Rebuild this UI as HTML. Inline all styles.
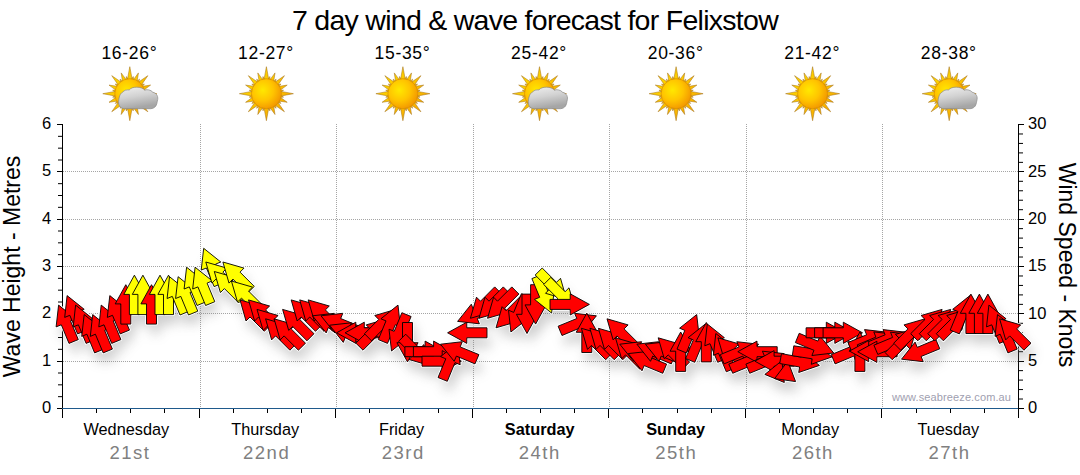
<!DOCTYPE html><html><head><meta charset="utf-8"><style>html,body{margin:0;padding:0;background:#fff;width:1080px;height:475px;overflow:hidden}svg{display:block;font-family:"Liberation Sans",sans-serif}</style></head><body>
<svg width="1080" height="475" viewBox="0 0 1080 475">
<defs>
<radialGradient id="sunc" cx="38%" cy="38%" r="65%"><stop offset="0" stop-color="#FFE800"/><stop offset="0.55" stop-color="#FFC400"/><stop offset="1" stop-color="#F39800"/></radialGradient>
<linearGradient id="ray" x1="0" y1="0" x2="1" y2="1"><stop offset="0" stop-color="#FFE200"/><stop offset="1" stop-color="#F5A000"/></linearGradient>
<linearGradient id="cld" x1="0" y1="0" x2="0.3" y2="1"><stop offset="0" stop-color="#F0F0F0"/><stop offset="0.5" stop-color="#D2D2D2"/><stop offset="1" stop-color="#A6A6A6"/></linearGradient>
<filter id="shd" x="-50%" y="-50%" width="200%" height="200%"><feGaussianBlur stdDeviation="6"/></filter>
<g id="sun">
<path d="M2.50 -13.50L0.00 -27.00L-2.50 -13.50ZM7.20 -11.63L8.61 -20.79L3.13 -13.31ZM11.10 -7.99L18.03 -18.03L7.99 -11.10ZM13.31 -3.13L20.79 -8.61L11.63 -7.20ZM13.50 2.50L27.00 -0.00L13.50 -2.50ZM11.63 7.20L20.79 8.61L13.31 3.13ZM7.99 11.10L18.03 18.03L11.10 7.99ZM3.13 13.31L8.61 20.79L7.20 11.63ZM-2.50 13.50L0.00 27.00L2.50 13.50ZM-7.20 11.63L-8.61 20.79L-3.13 13.31ZM-11.10 7.99L-18.03 18.03L-7.99 11.10ZM-13.31 3.13L-20.79 8.61L-11.63 7.20ZM-13.50 -2.50L-27.00 0.00L-13.50 2.50ZM-11.63 -7.20L-20.79 -8.61L-13.31 -3.13ZM-7.99 -11.10L-18.03 -18.03L-11.10 -7.99ZM-3.13 -13.31L-8.61 -20.79L-7.20 -11.63ZM3.91 -12.99L3.41 -17.16L1.36 -13.49ZM8.58 -10.50L9.72 -14.55L6.42 -11.95ZM11.95 -6.42L14.55 -9.72L10.50 -8.58ZM13.49 -1.36L17.16 -3.41L12.99 -3.91ZM12.99 3.91L17.16 3.41L13.49 1.36ZM10.50 8.58L14.55 9.72L11.95 6.42ZM6.42 11.95L9.72 14.55L8.58 10.50ZM1.36 13.49L3.41 17.16L3.91 12.99ZM-3.91 12.99L-3.41 17.16L-1.36 13.49ZM-8.58 10.50L-9.72 14.55L-6.42 11.95ZM-11.95 6.42L-14.55 9.72L-10.50 8.58ZM-13.49 1.36L-17.16 3.41L-12.99 3.91ZM-12.99 -3.91L-17.16 -3.41L-13.49 -1.36ZM-10.50 -8.58L-14.55 -9.72L-11.95 -6.42ZM-6.42 -11.95L-9.72 -14.55L-8.58 -10.50ZM-1.36 -13.49L-3.41 -17.16L-3.91 -12.99Z" fill="url(#ray)" stroke="#A8741C" stroke-width="0.65" stroke-opacity="0.85" stroke-linejoin="round"/>
<circle r="15" fill="url(#sunc)" stroke="#D98C00" stroke-width="0.7"/>
</g>
<path id="cloud" d="M-5 15C-10 15-12 11-11 6C-10.5 2-9-1-7-1.5C-6-3.5-3-4-0.5-3.8C2-7.5 12-7.5 15-3.5C17-4.5 21-4 23-1.5C27-0.5 29 3 27.5 7.5C27 11 26 14.5 21 15Z" fill="url(#cld)" stroke="#8A8A8A" stroke-width="0.7"/>
</defs>
<text x="535" y="30" font-size="28.5" text-anchor="middle" letter-spacing="-0.72" fill="#000">7 day wind &amp; wave forecast for Felixstow</text>
<text x="129.4" y="59" font-size="17.5" letter-spacing="0.7" text-anchor="middle" fill="#000">16-26°</text>
<use href="#sun" x="129.8" y="93.7"/>
<use href="#cloud" x="129.8" y="93.7"/>
<text x="266.0" y="59" font-size="17.5" letter-spacing="0.7" text-anchor="middle" fill="#000">12-27°</text>
<use href="#sun" x="266.4" y="93.7"/>
<text x="402.5" y="59" font-size="17.5" letter-spacing="0.7" text-anchor="middle" fill="#000">15-35°</text>
<use href="#sun" x="402.9" y="93.7"/>
<text x="539.1" y="59" font-size="17.5" letter-spacing="0.7" text-anchor="middle" fill="#000">25-42°</text>
<use href="#sun" x="539.5" y="93.7"/>
<use href="#cloud" x="539.5" y="93.7"/>
<text x="675.7" y="59" font-size="17.5" letter-spacing="0.7" text-anchor="middle" fill="#000">20-36°</text>
<use href="#sun" x="676.1" y="93.7"/>
<text x="812.2" y="59" font-size="17.5" letter-spacing="0.7" text-anchor="middle" fill="#000">21-42°</text>
<use href="#sun" x="812.6" y="93.7"/>
<text x="948.8" y="59" font-size="17.5" letter-spacing="0.7" text-anchor="middle" fill="#000">28-38°</text>
<use href="#sun" x="949.2" y="93.7"/>
<use href="#cloud" x="949.2" y="93.7"/>
<path d="M63 361.5H1018 M63 313.5H1018 M63 266.5H1018 M63 219.5H1018 M63 171.5H1018 M200.5 124V408 M336.5 124V408 M473.5 124V408 M609.5 124V408 M746.5 124V408 M882.5 124V408" stroke="#a5a5a5" stroke-width="1" stroke-dasharray="1 1" fill="none"/>
<text x="1011.1" y="401.3" font-size="11" text-anchor="end" fill="#A0A0B0" letter-spacing="0.12">www.seabreeze.com.au</text>
<path d="M62.5 124V418 M1018.5 124V408.5 M57 408.5H62.5 M58 396.67H62.5 M58 384.83H62.5 M58 373.00H62.5 M57 361.5H62.5 M58 349.33H62.5 M58 337.50H62.5 M58 325.67H62.5 M57 313.5H62.5 M58 302.00H62.5 M58 290.17H62.5 M58 278.33H62.5 M57 266.5H62.5 M58 254.67H62.5 M58 242.83H62.5 M58 231.00H62.5 M57 219.5H62.5 M58 207.33H62.5 M58 195.50H62.5 M58 183.67H62.5 M57 171.5H62.5 M58 160.00H62.5 M58 148.17H62.5 M58 136.33H62.5 M57 124.5H62.5 M1018.5 408.5H1024 M1018.5 399.03H1023 M1018.5 389.57H1023 M1018.5 380.10H1023 M1018.5 370.63H1023 M1018.5 361.5H1024 M1018.5 351.70H1023 M1018.5 342.23H1023 M1018.5 332.77H1023 M1018.5 323.30H1023 M1018.5 313.5H1024 M1018.5 304.37H1023 M1018.5 294.90H1023 M1018.5 285.43H1023 M1018.5 275.97H1023 M1018.5 266.5H1024 M1018.5 257.03H1023 M1018.5 247.57H1023 M1018.5 238.10H1023 M1018.5 228.63H1023 M1018.5 219.5H1024 M1018.5 209.70H1023 M1018.5 200.23H1023 M1018.5 190.77H1023 M1018.5 181.30H1023 M1018.5 171.5H1024 M1018.5 162.37H1023 M1018.5 152.90H1023 M1018.5 143.43H1023 M1018.5 133.97H1023 M1018.5 124.5H1024 M62.5 408V418 M96.5 408V413 M130.5 408V413 M164.5 408V413 M199.5 408V418 M233.5 408V413 M267.5 408V413 M301.5 408V413 M335.5 408V418 M369.5 408V413 M403.5 408V413 M438.5 408V413 M472.5 408V418 M506.5 408V413 M540.5 408V413 M574.5 408V413 M608.5 408V418 M642.5 408V413 M677.5 408V413 M711.5 408V413 M745.5 408V418 M779.5 408V413 M813.5 408V413 M847.5 408V413 M881.5 408V418 M916.5 408V413 M950.5 408V413 M984.5 408V413 M1018.5 408V418" stroke="#000" stroke-width="1" fill="none"/>
<path d="M62 408.5H1018" stroke="#1F5A8C" stroke-width="1" fill="none"/>
<g filter="url(#shd)" opacity="0.35" transform="translate(4,10)"><path d="M58.6 305.1L75.7 318.8L70.5 320.9L78.3 339.6L69.0 343.4L61.3 324.8L56.1 326.9ZM67.1 295.6L84.2 309.3L79.1 311.5L86.8 330.1L77.6 333.9L69.8 315.3L64.7 317.4ZM75.6 305.1L92.8 318.8L87.6 320.9L95.3 339.6L86.1 343.4L78.4 324.8L73.2 326.9ZM84.2 314.6L101.3 328.2L96.1 330.4L103.9 349.1L94.6 352.9L86.9 334.2L81.7 336.4ZM92.7 314.6L109.8 328.2L104.7 330.4L112.4 349.1L103.2 352.9L95.4 334.2L90.3 336.4ZM101.2 305.1L118.4 318.8L113.2 320.9L120.9 339.6L111.7 343.4L104.0 324.8L98.8 326.9ZM109.8 295.6L126.9 309.3L121.7 311.5L129.5 330.1L120.2 333.9L112.5 315.3L107.3 317.4ZM125.8 284.7L136.4 303.9L130.8 303.9L130.8 324.1L120.8 324.1L120.8 303.9L115.2 303.9ZM134.4 275.2L145.0 294.4L139.4 294.4L139.4 314.6L129.4 314.6L129.4 294.4L123.8 294.4ZM142.9 275.2L153.5 294.4L147.9 294.4L147.9 314.6L137.9 314.6L137.9 294.4L132.3 294.4ZM151.5 284.7L162.1 303.9L156.5 303.9L156.5 324.1L146.5 324.1L146.5 303.9L140.9 303.9ZM160.0 275.2L170.6 294.4L165.0 294.4L165.0 314.6L155.0 314.6L155.0 294.4L149.4 294.4ZM168.5 275.2L179.1 294.4L173.5 294.4L173.5 314.6L163.5 314.6L163.5 294.4L157.9 294.4ZM169.5 276.7L186.7 290.4L181.5 292.5L189.2 311.2L180.0 315.0L172.3 296.4L167.1 298.5ZM178.1 276.7L195.2 290.4L190.0 292.5L197.8 311.2L188.5 315.0L180.8 296.4L175.6 298.5ZM186.6 267.2L203.7 280.9L198.6 283.1L206.3 301.7L197.1 305.5L189.3 286.9L184.1 289.0ZM195.1 267.2L212.3 280.9L207.1 283.1L214.8 301.7L205.6 305.5L197.9 286.9L192.7 289.0ZM203.7 248.3L220.8 262.0L215.6 264.1L223.4 282.8L214.1 286.6L206.4 268.0L201.2 270.1ZM205.8 262.0L226.9 268.1L222.9 272.1L237.2 286.4L230.1 293.4L215.9 279.1L211.9 283.1ZM214.3 271.5L235.4 277.6L231.5 281.5L245.7 295.8L238.7 302.9L224.4 288.6L220.4 292.6ZM222.9 262.0L244.0 268.1L240.0 272.1L254.3 286.4L247.2 293.4L232.9 279.1L229.0 283.1ZM231.4 281.0L252.5 287.1L248.5 291.0L262.8 305.3L255.7 312.4L241.5 298.1L237.5 302.0ZM240.0 299.9L261.0 306.0L257.1 309.9L271.3 324.2L264.3 331.3L250.0 317.0L246.0 321.0ZM248.5 299.9L269.6 306.0L265.6 309.9L279.9 324.2L272.8 331.3L258.5 317.0L254.6 321.0ZM257.0 309.4L278.1 315.5L274.1 319.4L288.4 333.7L281.3 340.8L267.1 326.5L263.1 330.4ZM265.6 318.8L286.6 324.9L282.7 328.9L297.0 343.2L289.9 350.2L275.6 335.9L271.6 339.9ZM274.1 318.8L295.2 324.9L291.2 328.9L305.5 343.2L298.4 350.2L284.1 335.9L280.2 339.9ZM282.6 309.4L303.7 315.5L299.7 319.4L314.0 333.7L307.0 340.8L292.7 326.5L288.7 330.4ZM291.2 299.9L312.2 306.0L308.3 309.9L322.6 324.2L315.5 331.3L301.2 317.0L297.2 321.0ZM299.7 299.9L320.8 306.0L316.8 309.9L331.1 324.2L324.0 331.3L309.7 317.0L305.8 321.0ZM308.2 299.9L329.3 306.0L325.4 309.9L339.6 324.2L332.6 331.3L318.3 317.0L314.3 321.0ZM312.5 315.8L334.3 313.3L332.2 318.5L350.8 326.2L347.0 335.5L328.3 327.7L326.2 332.9ZM321.0 315.8L342.8 313.3L340.7 318.5L359.4 326.2L355.5 335.5L336.9 327.7L334.7 332.9ZM329.6 325.2L351.4 322.8L349.2 328.0L367.9 335.7L364.1 344.9L345.4 337.2L343.3 342.4ZM336.6 332.8L355.8 322.2L355.8 327.8L376.0 327.8L376.0 337.8L355.8 337.8L355.8 343.4ZM345.1 332.8L364.3 322.2L364.3 327.8L384.5 327.8L384.5 337.8L364.3 337.8L364.3 343.4ZM387.3 318.8L381.2 339.9L377.3 335.9L363.0 350.2L355.9 343.2L370.2 328.9L366.2 324.9ZM395.8 309.4L389.8 330.4L385.8 326.5L371.5 340.8L364.5 333.7L378.7 319.4L374.8 315.5ZM398.0 305.1L400.4 326.9L395.3 324.8L387.5 343.4L378.3 339.6L386.0 320.9L380.9 318.8ZM391.5 351.0L389.0 329.2L394.2 331.3L401.9 312.7L411.1 316.5L403.4 335.1L408.6 337.3ZM407.5 361.9L396.9 342.7L402.5 342.7L402.5 322.5L412.5 322.5L412.5 342.7L418.1 342.7ZM430.0 365.6L408.9 359.5L412.9 355.6L398.6 341.3L405.7 334.2L419.9 348.5L423.9 344.6ZM444.3 351.7L425.1 362.3L425.1 356.7L404.9 356.7L404.9 346.7L425.1 346.7L425.1 341.1ZM452.8 351.7L433.6 362.3L433.6 356.7L413.4 356.7L413.4 346.7L433.6 346.7L433.6 341.1ZM461.4 361.2L442.2 371.8L442.2 366.2L422.0 366.2L422.0 356.2L442.2 356.2L442.2 350.6ZM457.7 343.0L460.2 364.8L455.0 362.6L447.3 381.3L438.0 377.5L445.8 358.8L440.6 356.6ZM440.5 344.2L462.3 341.7L460.2 346.9L478.9 354.6L475.0 363.9L456.4 356.1L454.2 361.3ZM447.6 332.8L466.8 322.2L466.8 327.8L487.0 327.8L487.0 337.8L466.8 337.8L466.8 343.4ZM457.6 321.4L471.3 304.2L473.4 309.4L492.1 301.7L495.9 310.9L477.3 318.6L479.4 323.8ZM470.4 318.3L476.5 297.2L480.5 301.2L494.7 286.9L501.8 294.0L487.5 308.3L491.5 312.2ZM479.0 318.3L485.0 297.2L489.0 301.2L503.3 286.9L510.3 294.0L496.1 308.3L500.0 312.2ZM487.5 318.3L493.6 297.2L497.5 301.2L511.8 286.9L518.9 294.0L504.6 308.3L508.6 312.2ZM496.0 327.8L502.1 306.7L506.1 310.7L520.3 296.4L527.4 303.4L513.1 317.7L517.1 321.7ZM510.9 332.0L508.5 310.2L513.7 312.4L521.4 293.7L530.6 297.5L522.9 316.2L528.1 318.4ZM527.0 333.5L516.4 314.3L522.0 314.3L522.0 294.1L532.0 294.1L532.0 314.3L537.6 314.3ZM535.6 324.1L525.0 304.9L530.6 304.9L530.6 284.7L540.6 284.7L540.6 304.9L546.2 304.9ZM551.6 313.1L534.5 299.4L539.7 297.3L531.9 278.6L541.2 274.8L548.9 293.4L554.1 291.3ZM566.6 299.4L545.5 293.3L549.4 289.3L535.2 275.0L542.2 268.0L556.5 282.3L560.5 278.3ZM575.1 308.8L554.0 302.7L558.0 298.8L543.7 284.5L550.8 277.4L565.1 291.7L569.0 287.8ZM589.4 304.4L570.2 315.0L570.2 309.4L550.0 309.4L550.0 299.4L570.2 299.4L570.2 293.8ZM596.4 315.8L582.8 332.9L580.6 327.7L562.0 335.5L558.1 326.2L576.8 318.5L574.6 313.3ZM586.8 313.1L597.4 332.3L591.8 332.3L591.8 352.5L581.8 352.5L581.8 332.3L576.2 332.3ZM581.4 328.3L602.5 334.4L598.5 338.3L612.8 352.6L605.7 359.7L591.4 345.4L587.5 349.4ZM589.9 328.3L611.0 334.4L607.0 338.3L621.3 352.6L614.2 359.7L600.0 345.4L596.0 349.4ZM598.4 328.3L619.5 334.4L615.6 338.3L629.8 352.6L622.8 359.7L608.5 345.4L604.5 349.4ZM607.0 318.8L628.1 324.9L624.1 328.9L638.4 343.2L631.3 350.2L617.0 335.9L613.1 339.9ZM615.5 337.8L636.6 343.9L632.6 347.8L646.9 362.1L639.8 369.2L625.6 354.9L621.6 358.8ZM619.8 344.2L641.6 341.7L639.4 346.9L658.1 354.6L654.3 363.9L635.6 356.1L633.5 361.3ZM628.3 353.6L650.1 351.2L648.0 356.4L666.6 364.1L662.8 373.3L644.1 365.6L642.0 370.8ZM636.9 344.2L658.7 341.7L656.5 346.9L675.2 354.6L671.3 363.9L652.7 356.1L650.5 361.3ZM645.4 344.2L667.2 341.7L665.0 346.9L683.7 354.6L679.9 363.9L661.2 356.1L659.1 361.3ZM658.2 337.8L679.3 343.9L675.3 347.8L689.6 362.1L682.5 369.2L668.2 354.9L664.3 358.8ZM680.7 332.0L691.3 351.2L685.7 351.2L685.7 371.4L675.7 371.4L675.7 351.2L670.1 351.2ZM696.7 314.6L699.2 336.4L694.0 334.2L686.3 352.9L677.0 349.1L684.8 330.4L679.6 328.2ZM705.3 324.0L707.7 345.8L702.5 343.7L694.8 362.3L685.6 358.5L693.3 339.9L688.1 337.7ZM706.3 322.5L716.9 341.7L711.3 341.7L711.3 361.9L701.3 361.9L701.3 341.7L695.7 341.7ZM707.3 324.0L724.4 337.7L719.2 339.9L727.0 358.5L717.7 362.3L710.0 343.7L704.8 345.8ZM715.8 333.5L732.9 347.2L727.8 349.3L735.5 368.0L726.3 371.8L718.5 353.2L713.4 355.3ZM717.9 337.8L739.0 343.9L735.1 347.8L749.3 362.1L742.3 369.2L728.0 354.9L724.0 358.8ZM758.6 344.2L744.9 361.3L742.8 356.1L724.1 363.9L720.3 354.6L739.0 346.9L736.8 341.7ZM767.2 353.6L753.5 370.8L751.3 365.6L732.7 373.3L728.8 364.1L747.5 356.4L745.4 351.2ZM737.8 351.7L757.0 341.1L757.0 346.7L777.2 346.7L777.2 356.7L757.0 356.7L757.0 362.3ZM784.2 353.6L770.5 370.8L768.4 365.6L749.7 373.3L745.9 364.1L764.6 356.4L762.4 351.2ZM754.9 361.2L774.1 350.6L774.1 356.2L794.3 356.2L794.3 366.2L774.1 366.2L774.1 371.8ZM781.9 360.7L784.3 382.5L764.8 374.4ZM787.8 361.1L795.6 381.6L774.6 378.6ZM819.4 365.4L798.7 372.5L799.6 367.0L779.7 363.5L781.5 353.7L801.4 357.2L802.3 351.6ZM832.0 356.9L811.3 364.3L812.2 358.8L792.3 355.7L793.8 345.8L813.8 348.9L814.7 343.4ZM833.7 353.0L811.9 355.5L814.0 350.3L795.4 342.6L799.2 333.3L817.9 341.1L820.0 335.9ZM845.5 332.8L826.3 343.4L826.3 337.8L806.1 337.8L806.1 327.8L826.3 327.8L826.3 322.2ZM854.0 332.8L834.8 343.4L834.8 337.8L814.6 337.8L814.6 327.8L834.8 327.8L834.8 322.2ZM862.5 332.8L843.3 343.4L843.3 337.8L823.1 337.8L823.1 327.8L843.3 327.8L843.3 322.2ZM869.6 344.2L855.9 361.3L853.8 356.1L835.1 363.9L831.3 354.6L849.9 346.9L847.8 341.7ZM859.9 332.0L870.5 351.2L864.9 351.2L864.9 371.4L854.9 371.4L854.9 351.2L849.3 351.2ZM886.3 332.1L872.6 349.2L870.5 344.0L851.8 351.8L848.0 342.5L866.6 334.8L864.5 329.6ZM895.6 334.4L881.9 351.5L879.8 346.3L861.1 354.1L857.3 344.8L875.9 337.1L873.8 331.9ZM904.8 332.1L891.1 349.2L889.0 344.0L870.3 351.8L866.5 342.5L885.1 334.8L883.0 329.6ZM849.5 351.1L868.7 340.5L868.7 346.1L888.9 346.1L888.9 356.1L868.7 356.1L868.7 361.7ZM857.7 351.8L876.9 341.2L876.9 346.8L897.1 346.8L897.1 356.8L876.9 356.8L876.9 362.4ZM912.3 334.7L898.6 351.8L896.4 346.7L877.8 354.4L873.9 345.2L892.6 337.4L890.5 332.2ZM916.5 328.3L910.4 349.4L906.5 345.4L892.2 359.7L885.1 352.6L899.4 338.3L895.4 334.4ZM925.1 318.8L919.0 339.9L915.0 335.9L900.7 350.2L893.7 343.2L907.9 328.9L904.0 324.9ZM901.5 359.2L915.1 342.1L917.3 347.3L935.9 339.5L939.8 348.8L921.1 356.5L923.3 361.7ZM942.1 309.4L936.0 330.4L932.1 326.5L917.8 340.8L910.7 333.7L925.0 319.4L921.1 315.5ZM950.7 309.4L944.6 330.4L940.6 326.5L926.3 340.8L919.3 333.7L933.6 319.4L929.6 315.5ZM959.2 309.4L953.1 330.4L949.2 326.5L934.9 340.8L927.8 333.7L942.1 319.4L938.1 315.5ZM967.7 309.4L961.7 330.4L957.7 326.5L943.4 340.8L936.3 333.7L950.6 319.4L946.7 315.5ZM969.9 295.6L972.3 317.4L967.2 315.3L959.4 333.9L950.2 330.1L957.9 311.5L952.7 309.3ZM970.9 294.1L981.5 313.3L975.9 313.3L975.9 333.5L965.9 333.5L965.9 313.3L960.3 313.3ZM979.4 294.1L990.0 313.3L984.4 313.3L984.4 333.5L974.4 333.5L974.4 313.3L968.8 313.3ZM987.9 294.1L998.5 313.3L992.9 313.3L992.9 333.5L982.9 333.5L982.9 313.3L977.3 313.3ZM988.9 305.1L1006.1 318.8L1000.9 320.9L1008.6 339.6L999.4 343.4L991.7 324.8L986.5 326.9ZM997.5 314.6L1014.6 328.2L1009.4 330.4L1017.2 349.1L1007.9 352.9L1000.2 334.2L995.0 336.4ZM999.6 318.8L1020.7 324.9L1016.7 328.9L1031.0 343.2L1023.9 350.2L1009.7 335.9L1005.7 339.9Z" fill="#777"/></g><path d="M58.6 305.1L75.7 318.8L70.5 320.9L78.3 339.6L69.0 343.4L61.3 324.8L56.1 326.9ZM67.1 295.6L84.2 309.3L79.1 311.5L86.8 330.1L77.6 333.9L69.8 315.3L64.7 317.4ZM75.6 305.1L92.8 318.8L87.6 320.9L95.3 339.6L86.1 343.4L78.4 324.8L73.2 326.9ZM84.2 314.6L101.3 328.2L96.1 330.4L103.9 349.1L94.6 352.9L86.9 334.2L81.7 336.4ZM92.7 314.6L109.8 328.2L104.7 330.4L112.4 349.1L103.2 352.9L95.4 334.2L90.3 336.4ZM101.2 305.1L118.4 318.8L113.2 320.9L120.9 339.6L111.7 343.4L104.0 324.8L98.8 326.9ZM109.8 295.6L126.9 309.3L121.7 311.5L129.5 330.1L120.2 333.9L112.5 315.3L107.3 317.4ZM125.8 284.7L136.4 303.9L130.8 303.9L130.8 324.1L120.8 324.1L120.8 303.9L115.2 303.9ZM134.4 275.2L145.0 294.4L139.4 294.4L139.4 314.6L129.4 314.6L129.4 294.4L123.8 294.4ZM142.9 275.2L153.5 294.4L147.9 294.4L147.9 314.6L137.9 314.6L137.9 294.4L132.3 294.4ZM151.5 284.7L162.1 303.9L156.5 303.9L156.5 324.1L146.5 324.1L146.5 303.9L140.9 303.9ZM160.0 275.2L170.6 294.4L165.0 294.4L165.0 314.6L155.0 314.6L155.0 294.4L149.4 294.4ZM168.5 275.2L179.1 294.4L173.5 294.4L173.5 314.6L163.5 314.6L163.5 294.4L157.9 294.4ZM169.5 276.7L186.7 290.4L181.5 292.5L189.2 311.2L180.0 315.0L172.3 296.4L167.1 298.5ZM178.1 276.7L195.2 290.4L190.0 292.5L197.8 311.2L188.5 315.0L180.8 296.4L175.6 298.5ZM186.6 267.2L203.7 280.9L198.6 283.1L206.3 301.7L197.1 305.5L189.3 286.9L184.1 289.0ZM195.1 267.2L212.3 280.9L207.1 283.1L214.8 301.7L205.6 305.5L197.9 286.9L192.7 289.0ZM203.7 248.3L220.8 262.0L215.6 264.1L223.4 282.8L214.1 286.6L206.4 268.0L201.2 270.1ZM205.8 262.0L226.9 268.1L222.9 272.1L237.2 286.4L230.1 293.4L215.9 279.1L211.9 283.1ZM214.3 271.5L235.4 277.6L231.5 281.5L245.7 295.8L238.7 302.9L224.4 288.6L220.4 292.6ZM222.9 262.0L244.0 268.1L240.0 272.1L254.3 286.4L247.2 293.4L232.9 279.1L229.0 283.1ZM231.4 281.0L252.5 287.1L248.5 291.0L262.8 305.3L255.7 312.4L241.5 298.1L237.5 302.0ZM240.0 299.9L261.0 306.0L257.1 309.9L271.3 324.2L264.3 331.3L250.0 317.0L246.0 321.0ZM248.5 299.9L269.6 306.0L265.6 309.9L279.9 324.2L272.8 331.3L258.5 317.0L254.6 321.0ZM257.0 309.4L278.1 315.5L274.1 319.4L288.4 333.7L281.3 340.8L267.1 326.5L263.1 330.4ZM265.6 318.8L286.6 324.9L282.7 328.9L297.0 343.2L289.9 350.2L275.6 335.9L271.6 339.9ZM274.1 318.8L295.2 324.9L291.2 328.9L305.5 343.2L298.4 350.2L284.1 335.9L280.2 339.9ZM282.6 309.4L303.7 315.5L299.7 319.4L314.0 333.7L307.0 340.8L292.7 326.5L288.7 330.4ZM291.2 299.9L312.2 306.0L308.3 309.9L322.6 324.2L315.5 331.3L301.2 317.0L297.2 321.0ZM299.7 299.9L320.8 306.0L316.8 309.9L331.1 324.2L324.0 331.3L309.7 317.0L305.8 321.0ZM308.2 299.9L329.3 306.0L325.4 309.9L339.6 324.2L332.6 331.3L318.3 317.0L314.3 321.0ZM312.5 315.8L334.3 313.3L332.2 318.5L350.8 326.2L347.0 335.5L328.3 327.7L326.2 332.9ZM321.0 315.8L342.8 313.3L340.7 318.5L359.4 326.2L355.5 335.5L336.9 327.7L334.7 332.9ZM329.6 325.2L351.4 322.8L349.2 328.0L367.9 335.7L364.1 344.9L345.4 337.2L343.3 342.4ZM336.6 332.8L355.8 322.2L355.8 327.8L376.0 327.8L376.0 337.8L355.8 337.8L355.8 343.4ZM345.1 332.8L364.3 322.2L364.3 327.8L384.5 327.8L384.5 337.8L364.3 337.8L364.3 343.4ZM387.3 318.8L381.2 339.9L377.3 335.9L363.0 350.2L355.9 343.2L370.2 328.9L366.2 324.9ZM395.8 309.4L389.8 330.4L385.8 326.5L371.5 340.8L364.5 333.7L378.7 319.4L374.8 315.5ZM398.0 305.1L400.4 326.9L395.3 324.8L387.5 343.4L378.3 339.6L386.0 320.9L380.9 318.8ZM391.5 351.0L389.0 329.2L394.2 331.3L401.9 312.7L411.1 316.5L403.4 335.1L408.6 337.3ZM407.5 361.9L396.9 342.7L402.5 342.7L402.5 322.5L412.5 322.5L412.5 342.7L418.1 342.7ZM430.0 365.6L408.9 359.5L412.9 355.6L398.6 341.3L405.7 334.2L419.9 348.5L423.9 344.6ZM444.3 351.7L425.1 362.3L425.1 356.7L404.9 356.7L404.9 346.7L425.1 346.7L425.1 341.1ZM452.8 351.7L433.6 362.3L433.6 356.7L413.4 356.7L413.4 346.7L433.6 346.7L433.6 341.1ZM461.4 361.2L442.2 371.8L442.2 366.2L422.0 366.2L422.0 356.2L442.2 356.2L442.2 350.6ZM457.7 343.0L460.2 364.8L455.0 362.6L447.3 381.3L438.0 377.5L445.8 358.8L440.6 356.6ZM440.5 344.2L462.3 341.7L460.2 346.9L478.9 354.6L475.0 363.9L456.4 356.1L454.2 361.3ZM447.6 332.8L466.8 322.2L466.8 327.8L487.0 327.8L487.0 337.8L466.8 337.8L466.8 343.4ZM457.6 321.4L471.3 304.2L473.4 309.4L492.1 301.7L495.9 310.9L477.3 318.6L479.4 323.8ZM470.4 318.3L476.5 297.2L480.5 301.2L494.7 286.9L501.8 294.0L487.5 308.3L491.5 312.2ZM479.0 318.3L485.0 297.2L489.0 301.2L503.3 286.9L510.3 294.0L496.1 308.3L500.0 312.2ZM487.5 318.3L493.6 297.2L497.5 301.2L511.8 286.9L518.9 294.0L504.6 308.3L508.6 312.2ZM496.0 327.8L502.1 306.7L506.1 310.7L520.3 296.4L527.4 303.4L513.1 317.7L517.1 321.7ZM510.9 332.0L508.5 310.2L513.7 312.4L521.4 293.7L530.6 297.5L522.9 316.2L528.1 318.4ZM527.0 333.5L516.4 314.3L522.0 314.3L522.0 294.1L532.0 294.1L532.0 314.3L537.6 314.3ZM535.6 324.1L525.0 304.9L530.6 304.9L530.6 284.7L540.6 284.7L540.6 304.9L546.2 304.9ZM551.6 313.1L534.5 299.4L539.7 297.3L531.9 278.6L541.2 274.8L548.9 293.4L554.1 291.3ZM566.6 299.4L545.5 293.3L549.4 289.3L535.2 275.0L542.2 268.0L556.5 282.3L560.5 278.3ZM575.1 308.8L554.0 302.7L558.0 298.8L543.7 284.5L550.8 277.4L565.1 291.7L569.0 287.8ZM589.4 304.4L570.2 315.0L570.2 309.4L550.0 309.4L550.0 299.4L570.2 299.4L570.2 293.8ZM596.4 315.8L582.8 332.9L580.6 327.7L562.0 335.5L558.1 326.2L576.8 318.5L574.6 313.3ZM586.8 313.1L597.4 332.3L591.8 332.3L591.8 352.5L581.8 352.5L581.8 332.3L576.2 332.3ZM581.4 328.3L602.5 334.4L598.5 338.3L612.8 352.6L605.7 359.7L591.4 345.4L587.5 349.4ZM589.9 328.3L611.0 334.4L607.0 338.3L621.3 352.6L614.2 359.7L600.0 345.4L596.0 349.4ZM598.4 328.3L619.5 334.4L615.6 338.3L629.8 352.6L622.8 359.7L608.5 345.4L604.5 349.4ZM607.0 318.8L628.1 324.9L624.1 328.9L638.4 343.2L631.3 350.2L617.0 335.9L613.1 339.9ZM615.5 337.8L636.6 343.9L632.6 347.8L646.9 362.1L639.8 369.2L625.6 354.9L621.6 358.8ZM619.8 344.2L641.6 341.7L639.4 346.9L658.1 354.6L654.3 363.9L635.6 356.1L633.5 361.3ZM628.3 353.6L650.1 351.2L648.0 356.4L666.6 364.1L662.8 373.3L644.1 365.6L642.0 370.8ZM636.9 344.2L658.7 341.7L656.5 346.9L675.2 354.6L671.3 363.9L652.7 356.1L650.5 361.3ZM645.4 344.2L667.2 341.7L665.0 346.9L683.7 354.6L679.9 363.9L661.2 356.1L659.1 361.3ZM658.2 337.8L679.3 343.9L675.3 347.8L689.6 362.1L682.5 369.2L668.2 354.9L664.3 358.8ZM680.7 332.0L691.3 351.2L685.7 351.2L685.7 371.4L675.7 371.4L675.7 351.2L670.1 351.2ZM696.7 314.6L699.2 336.4L694.0 334.2L686.3 352.9L677.0 349.1L684.8 330.4L679.6 328.2ZM705.3 324.0L707.7 345.8L702.5 343.7L694.8 362.3L685.6 358.5L693.3 339.9L688.1 337.7ZM706.3 322.5L716.9 341.7L711.3 341.7L711.3 361.9L701.3 361.9L701.3 341.7L695.7 341.7ZM707.3 324.0L724.4 337.7L719.2 339.9L727.0 358.5L717.7 362.3L710.0 343.7L704.8 345.8ZM715.8 333.5L732.9 347.2L727.8 349.3L735.5 368.0L726.3 371.8L718.5 353.2L713.4 355.3ZM717.9 337.8L739.0 343.9L735.1 347.8L749.3 362.1L742.3 369.2L728.0 354.9L724.0 358.8ZM758.6 344.2L744.9 361.3L742.8 356.1L724.1 363.9L720.3 354.6L739.0 346.9L736.8 341.7ZM767.2 353.6L753.5 370.8L751.3 365.6L732.7 373.3L728.8 364.1L747.5 356.4L745.4 351.2ZM737.8 351.7L757.0 341.1L757.0 346.7L777.2 346.7L777.2 356.7L757.0 356.7L757.0 362.3ZM784.2 353.6L770.5 370.8L768.4 365.6L749.7 373.3L745.9 364.1L764.6 356.4L762.4 351.2ZM754.9 361.2L774.1 350.6L774.1 356.2L794.3 356.2L794.3 366.2L774.1 366.2L774.1 371.8ZM781.9 360.7L784.3 382.5L764.8 374.4ZM787.8 361.1L795.6 381.6L774.6 378.6ZM819.4 365.4L798.7 372.5L799.6 367.0L779.7 363.5L781.5 353.7L801.4 357.2L802.3 351.6ZM832.0 356.9L811.3 364.3L812.2 358.8L792.3 355.7L793.8 345.8L813.8 348.9L814.7 343.4ZM833.7 353.0L811.9 355.5L814.0 350.3L795.4 342.6L799.2 333.3L817.9 341.1L820.0 335.9ZM845.5 332.8L826.3 343.4L826.3 337.8L806.1 337.8L806.1 327.8L826.3 327.8L826.3 322.2ZM854.0 332.8L834.8 343.4L834.8 337.8L814.6 337.8L814.6 327.8L834.8 327.8L834.8 322.2ZM862.5 332.8L843.3 343.4L843.3 337.8L823.1 337.8L823.1 327.8L843.3 327.8L843.3 322.2ZM869.6 344.2L855.9 361.3L853.8 356.1L835.1 363.9L831.3 354.6L849.9 346.9L847.8 341.7ZM859.9 332.0L870.5 351.2L864.9 351.2L864.9 371.4L854.9 371.4L854.9 351.2L849.3 351.2ZM886.3 332.1L872.6 349.2L870.5 344.0L851.8 351.8L848.0 342.5L866.6 334.8L864.5 329.6ZM895.6 334.4L881.9 351.5L879.8 346.3L861.1 354.1L857.3 344.8L875.9 337.1L873.8 331.9ZM904.8 332.1L891.1 349.2L889.0 344.0L870.3 351.8L866.5 342.5L885.1 334.8L883.0 329.6ZM849.5 351.1L868.7 340.5L868.7 346.1L888.9 346.1L888.9 356.1L868.7 356.1L868.7 361.7ZM857.7 351.8L876.9 341.2L876.9 346.8L897.1 346.8L897.1 356.8L876.9 356.8L876.9 362.4ZM912.3 334.7L898.6 351.8L896.4 346.7L877.8 354.4L873.9 345.2L892.6 337.4L890.5 332.2ZM916.5 328.3L910.4 349.4L906.5 345.4L892.2 359.7L885.1 352.6L899.4 338.3L895.4 334.4ZM925.1 318.8L919.0 339.9L915.0 335.9L900.7 350.2L893.7 343.2L907.9 328.9L904.0 324.9ZM901.5 359.2L915.1 342.1L917.3 347.3L935.9 339.5L939.8 348.8L921.1 356.5L923.3 361.7ZM942.1 309.4L936.0 330.4L932.1 326.5L917.8 340.8L910.7 333.7L925.0 319.4L921.1 315.5ZM950.7 309.4L944.6 330.4L940.6 326.5L926.3 340.8L919.3 333.7L933.6 319.4L929.6 315.5ZM959.2 309.4L953.1 330.4L949.2 326.5L934.9 340.8L927.8 333.7L942.1 319.4L938.1 315.5ZM967.7 309.4L961.7 330.4L957.7 326.5L943.4 340.8L936.3 333.7L950.6 319.4L946.7 315.5ZM969.9 295.6L972.3 317.4L967.2 315.3L959.4 333.9L950.2 330.1L957.9 311.5L952.7 309.3ZM970.9 294.1L981.5 313.3L975.9 313.3L975.9 333.5L965.9 333.5L965.9 313.3L960.3 313.3ZM979.4 294.1L990.0 313.3L984.4 313.3L984.4 333.5L974.4 333.5L974.4 313.3L968.8 313.3ZM987.9 294.1L998.5 313.3L992.9 313.3L992.9 333.5L982.9 333.5L982.9 313.3L977.3 313.3ZM988.9 305.1L1006.1 318.8L1000.9 320.9L1008.6 339.6L999.4 343.4L991.7 324.8L986.5 326.9ZM997.5 314.6L1014.6 328.2L1009.4 330.4L1017.2 349.1L1007.9 352.9L1000.2 334.2L995.0 336.4ZM999.6 318.8L1020.7 324.9L1016.7 328.9L1031.0 343.2L1023.9 350.2L1009.7 335.9L1005.7 339.9Z" fill="#fff" stroke="#fff" stroke-width="2.6" stroke-linejoin="round"/><path d="M58.6 305.1L75.7 318.8L70.5 320.9L78.3 339.6L69.0 343.4L61.3 324.8L56.1 326.9Z" fill="#FF0000" stroke="#000" stroke-width="0.9" stroke-linejoin="miter"/>
<path d="M67.1 295.6L84.2 309.3L79.1 311.5L86.8 330.1L77.6 333.9L69.8 315.3L64.7 317.4Z" fill="#FF0000" stroke="#000" stroke-width="0.9" stroke-linejoin="miter"/>
<path d="M75.6 305.1L92.8 318.8L87.6 320.9L95.3 339.6L86.1 343.4L78.4 324.8L73.2 326.9Z" fill="#FF0000" stroke="#000" stroke-width="0.9" stroke-linejoin="miter"/>
<path d="M84.2 314.6L101.3 328.2L96.1 330.4L103.9 349.1L94.6 352.9L86.9 334.2L81.7 336.4Z" fill="#FF0000" stroke="#000" stroke-width="0.9" stroke-linejoin="miter"/>
<path d="M92.7 314.6L109.8 328.2L104.7 330.4L112.4 349.1L103.2 352.9L95.4 334.2L90.3 336.4Z" fill="#FF0000" stroke="#000" stroke-width="0.9" stroke-linejoin="miter"/>
<path d="M101.2 305.1L118.4 318.8L113.2 320.9L120.9 339.6L111.7 343.4L104.0 324.8L98.8 326.9Z" fill="#FF0000" stroke="#000" stroke-width="0.9" stroke-linejoin="miter"/>
<path d="M109.8 295.6L126.9 309.3L121.7 311.5L129.5 330.1L120.2 333.9L112.5 315.3L107.3 317.4Z" fill="#FF0000" stroke="#000" stroke-width="0.9" stroke-linejoin="miter"/>
<path d="M125.8 284.7L136.4 303.9L130.8 303.9L130.8 324.1L120.8 324.1L120.8 303.9L115.2 303.9Z" fill="#FF0000" stroke="#000" stroke-width="0.9" stroke-linejoin="miter"/>
<path d="M134.4 275.2L145.0 294.4L139.4 294.4L139.4 314.6L129.4 314.6L129.4 294.4L123.8 294.4Z" fill="#FFFF00" stroke="#000" stroke-width="0.9" stroke-linejoin="miter"/>
<path d="M142.9 275.2L153.5 294.4L147.9 294.4L147.9 314.6L137.9 314.6L137.9 294.4L132.3 294.4Z" fill="#FFFF00" stroke="#000" stroke-width="0.9" stroke-linejoin="miter"/>
<path d="M151.5 284.7L162.1 303.9L156.5 303.9L156.5 324.1L146.5 324.1L146.5 303.9L140.9 303.9Z" fill="#FF0000" stroke="#000" stroke-width="0.9" stroke-linejoin="miter"/>
<path d="M160.0 275.2L170.6 294.4L165.0 294.4L165.0 314.6L155.0 314.6L155.0 294.4L149.4 294.4Z" fill="#FFFF00" stroke="#000" stroke-width="0.9" stroke-linejoin="miter"/>
<path d="M168.5 275.2L179.1 294.4L173.5 294.4L173.5 314.6L163.5 314.6L163.5 294.4L157.9 294.4Z" fill="#FFFF00" stroke="#000" stroke-width="0.9" stroke-linejoin="miter"/>
<path d="M169.5 276.7L186.7 290.4L181.5 292.5L189.2 311.2L180.0 315.0L172.3 296.4L167.1 298.5Z" fill="#FFFF00" stroke="#000" stroke-width="0.9" stroke-linejoin="miter"/>
<path d="M178.1 276.7L195.2 290.4L190.0 292.5L197.8 311.2L188.5 315.0L180.8 296.4L175.6 298.5Z" fill="#FFFF00" stroke="#000" stroke-width="0.9" stroke-linejoin="miter"/>
<path d="M186.6 267.2L203.7 280.9L198.6 283.1L206.3 301.7L197.1 305.5L189.3 286.9L184.1 289.0Z" fill="#FFFF00" stroke="#000" stroke-width="0.9" stroke-linejoin="miter"/>
<path d="M195.1 267.2L212.3 280.9L207.1 283.1L214.8 301.7L205.6 305.5L197.9 286.9L192.7 289.0Z" fill="#FFFF00" stroke="#000" stroke-width="0.9" stroke-linejoin="miter"/>
<path d="M203.7 248.3L220.8 262.0L215.6 264.1L223.4 282.8L214.1 286.6L206.4 268.0L201.2 270.1Z" fill="#FFFF00" stroke="#000" stroke-width="0.9" stroke-linejoin="miter"/>
<path d="M205.8 262.0L226.9 268.1L222.9 272.1L237.2 286.4L230.1 293.4L215.9 279.1L211.9 283.1Z" fill="#FFFF00" stroke="#000" stroke-width="0.9" stroke-linejoin="miter"/>
<path d="M214.3 271.5L235.4 277.6L231.5 281.5L245.7 295.8L238.7 302.9L224.4 288.6L220.4 292.6Z" fill="#FFFF00" stroke="#000" stroke-width="0.9" stroke-linejoin="miter"/>
<path d="M222.9 262.0L244.0 268.1L240.0 272.1L254.3 286.4L247.2 293.4L232.9 279.1L229.0 283.1Z" fill="#FFFF00" stroke="#000" stroke-width="0.9" stroke-linejoin="miter"/>
<path d="M231.4 281.0L252.5 287.1L248.5 291.0L262.8 305.3L255.7 312.4L241.5 298.1L237.5 302.0Z" fill="#FFFF00" stroke="#000" stroke-width="0.9" stroke-linejoin="miter"/>
<path d="M240.0 299.9L261.0 306.0L257.1 309.9L271.3 324.2L264.3 331.3L250.0 317.0L246.0 321.0Z" fill="#FF0000" stroke="#000" stroke-width="0.9" stroke-linejoin="miter"/>
<path d="M248.5 299.9L269.6 306.0L265.6 309.9L279.9 324.2L272.8 331.3L258.5 317.0L254.6 321.0Z" fill="#FF0000" stroke="#000" stroke-width="0.9" stroke-linejoin="miter"/>
<path d="M257.0 309.4L278.1 315.5L274.1 319.4L288.4 333.7L281.3 340.8L267.1 326.5L263.1 330.4Z" fill="#FF0000" stroke="#000" stroke-width="0.9" stroke-linejoin="miter"/>
<path d="M265.6 318.8L286.6 324.9L282.7 328.9L297.0 343.2L289.9 350.2L275.6 335.9L271.6 339.9Z" fill="#FF0000" stroke="#000" stroke-width="0.9" stroke-linejoin="miter"/>
<path d="M274.1 318.8L295.2 324.9L291.2 328.9L305.5 343.2L298.4 350.2L284.1 335.9L280.2 339.9Z" fill="#FF0000" stroke="#000" stroke-width="0.9" stroke-linejoin="miter"/>
<path d="M282.6 309.4L303.7 315.5L299.7 319.4L314.0 333.7L307.0 340.8L292.7 326.5L288.7 330.4Z" fill="#FF0000" stroke="#000" stroke-width="0.9" stroke-linejoin="miter"/>
<path d="M291.2 299.9L312.2 306.0L308.3 309.9L322.6 324.2L315.5 331.3L301.2 317.0L297.2 321.0Z" fill="#FF0000" stroke="#000" stroke-width="0.9" stroke-linejoin="miter"/>
<path d="M299.7 299.9L320.8 306.0L316.8 309.9L331.1 324.2L324.0 331.3L309.7 317.0L305.8 321.0Z" fill="#FF0000" stroke="#000" stroke-width="0.9" stroke-linejoin="miter"/>
<path d="M308.2 299.9L329.3 306.0L325.4 309.9L339.6 324.2L332.6 331.3L318.3 317.0L314.3 321.0Z" fill="#FF0000" stroke="#000" stroke-width="0.9" stroke-linejoin="miter"/>
<path d="M312.5 315.8L334.3 313.3L332.2 318.5L350.8 326.2L347.0 335.5L328.3 327.7L326.2 332.9Z" fill="#FF0000" stroke="#000" stroke-width="0.9" stroke-linejoin="miter"/>
<path d="M321.0 315.8L342.8 313.3L340.7 318.5L359.4 326.2L355.5 335.5L336.9 327.7L334.7 332.9Z" fill="#FF0000" stroke="#000" stroke-width="0.9" stroke-linejoin="miter"/>
<path d="M329.6 325.2L351.4 322.8L349.2 328.0L367.9 335.7L364.1 344.9L345.4 337.2L343.3 342.4Z" fill="#FF0000" stroke="#000" stroke-width="0.9" stroke-linejoin="miter"/>
<path d="M336.6 332.8L355.8 322.2L355.8 327.8L376.0 327.8L376.0 337.8L355.8 337.8L355.8 343.4Z" fill="#FF0000" stroke="#000" stroke-width="0.9" stroke-linejoin="miter"/>
<path d="M345.1 332.8L364.3 322.2L364.3 327.8L384.5 327.8L384.5 337.8L364.3 337.8L364.3 343.4Z" fill="#FF0000" stroke="#000" stroke-width="0.9" stroke-linejoin="miter"/>
<path d="M387.3 318.8L381.2 339.9L377.3 335.9L363.0 350.2L355.9 343.2L370.2 328.9L366.2 324.9Z" fill="#FF0000" stroke="#000" stroke-width="0.9" stroke-linejoin="miter"/>
<path d="M395.8 309.4L389.8 330.4L385.8 326.5L371.5 340.8L364.5 333.7L378.7 319.4L374.8 315.5Z" fill="#FF0000" stroke="#000" stroke-width="0.9" stroke-linejoin="miter"/>
<path d="M398.0 305.1L400.4 326.9L395.3 324.8L387.5 343.4L378.3 339.6L386.0 320.9L380.9 318.8Z" fill="#FF0000" stroke="#000" stroke-width="0.9" stroke-linejoin="miter"/>
<path d="M391.5 351.0L389.0 329.2L394.2 331.3L401.9 312.7L411.1 316.5L403.4 335.1L408.6 337.3Z" fill="#FF0000" stroke="#000" stroke-width="0.9" stroke-linejoin="miter"/>
<path d="M407.5 361.9L396.9 342.7L402.5 342.7L402.5 322.5L412.5 322.5L412.5 342.7L418.1 342.7Z" fill="#FF0000" stroke="#000" stroke-width="0.9" stroke-linejoin="miter"/>
<path d="M430.0 365.6L408.9 359.5L412.9 355.6L398.6 341.3L405.7 334.2L419.9 348.5L423.9 344.6Z" fill="#FF0000" stroke="#000" stroke-width="0.9" stroke-linejoin="miter"/>
<path d="M444.3 351.7L425.1 362.3L425.1 356.7L404.9 356.7L404.9 346.7L425.1 346.7L425.1 341.1Z" fill="#FF0000" stroke="#000" stroke-width="0.9" stroke-linejoin="miter"/>
<path d="M452.8 351.7L433.6 362.3L433.6 356.7L413.4 356.7L413.4 346.7L433.6 346.7L433.6 341.1Z" fill="#FF0000" stroke="#000" stroke-width="0.9" stroke-linejoin="miter"/>
<path d="M461.4 361.2L442.2 371.8L442.2 366.2L422.0 366.2L422.0 356.2L442.2 356.2L442.2 350.6Z" fill="#FF0000" stroke="#000" stroke-width="0.9" stroke-linejoin="miter"/>
<path d="M457.7 343.0L460.2 364.8L455.0 362.6L447.3 381.3L438.0 377.5L445.8 358.8L440.6 356.6Z" fill="#FF0000" stroke="#000" stroke-width="0.9" stroke-linejoin="miter"/>
<path d="M440.5 344.2L462.3 341.7L460.2 346.9L478.9 354.6L475.0 363.9L456.4 356.1L454.2 361.3Z" fill="#FF0000" stroke="#000" stroke-width="0.9" stroke-linejoin="miter"/>
<path d="M447.6 332.8L466.8 322.2L466.8 327.8L487.0 327.8L487.0 337.8L466.8 337.8L466.8 343.4Z" fill="#FF0000" stroke="#000" stroke-width="0.9" stroke-linejoin="miter"/>
<path d="M457.6 321.4L471.3 304.2L473.4 309.4L492.1 301.7L495.9 310.9L477.3 318.6L479.4 323.8Z" fill="#FF0000" stroke="#000" stroke-width="0.9" stroke-linejoin="miter"/>
<path d="M470.4 318.3L476.5 297.2L480.5 301.2L494.7 286.9L501.8 294.0L487.5 308.3L491.5 312.2Z" fill="#FF0000" stroke="#000" stroke-width="0.9" stroke-linejoin="miter"/>
<path d="M479.0 318.3L485.0 297.2L489.0 301.2L503.3 286.9L510.3 294.0L496.1 308.3L500.0 312.2Z" fill="#FF0000" stroke="#000" stroke-width="0.9" stroke-linejoin="miter"/>
<path d="M487.5 318.3L493.6 297.2L497.5 301.2L511.8 286.9L518.9 294.0L504.6 308.3L508.6 312.2Z" fill="#FF0000" stroke="#000" stroke-width="0.9" stroke-linejoin="miter"/>
<path d="M496.0 327.8L502.1 306.7L506.1 310.7L520.3 296.4L527.4 303.4L513.1 317.7L517.1 321.7Z" fill="#FF0000" stroke="#000" stroke-width="0.9" stroke-linejoin="miter"/>
<path d="M510.9 332.0L508.5 310.2L513.7 312.4L521.4 293.7L530.6 297.5L522.9 316.2L528.1 318.4Z" fill="#FF0000" stroke="#000" stroke-width="0.9" stroke-linejoin="miter"/>
<path d="M527.0 333.5L516.4 314.3L522.0 314.3L522.0 294.1L532.0 294.1L532.0 314.3L537.6 314.3Z" fill="#FF0000" stroke="#000" stroke-width="0.9" stroke-linejoin="miter"/>
<path d="M535.6 324.1L525.0 304.9L530.6 304.9L530.6 284.7L540.6 284.7L540.6 304.9L546.2 304.9Z" fill="#FF0000" stroke="#000" stroke-width="0.9" stroke-linejoin="miter"/>
<path d="M551.6 313.1L534.5 299.4L539.7 297.3L531.9 278.6L541.2 274.8L548.9 293.4L554.1 291.3Z" fill="#FFFF00" stroke="#000" stroke-width="0.9" stroke-linejoin="miter"/>
<path d="M566.6 299.4L545.5 293.3L549.4 289.3L535.2 275.0L542.2 268.0L556.5 282.3L560.5 278.3Z" fill="#FFFF00" stroke="#000" stroke-width="0.9" stroke-linejoin="miter"/>
<path d="M575.1 308.8L554.0 302.7L558.0 298.8L543.7 284.5L550.8 277.4L565.1 291.7L569.0 287.8Z" fill="#FFFF00" stroke="#000" stroke-width="0.9" stroke-linejoin="miter"/>
<path d="M589.4 304.4L570.2 315.0L570.2 309.4L550.0 309.4L550.0 299.4L570.2 299.4L570.2 293.8Z" fill="#FF0000" stroke="#000" stroke-width="0.9" stroke-linejoin="miter"/>
<path d="M596.4 315.8L582.8 332.9L580.6 327.7L562.0 335.5L558.1 326.2L576.8 318.5L574.6 313.3Z" fill="#FF0000" stroke="#000" stroke-width="0.9" stroke-linejoin="miter"/>
<path d="M586.8 313.1L597.4 332.3L591.8 332.3L591.8 352.5L581.8 352.5L581.8 332.3L576.2 332.3Z" fill="#FF0000" stroke="#000" stroke-width="0.9" stroke-linejoin="miter"/>
<path d="M581.4 328.3L602.5 334.4L598.5 338.3L612.8 352.6L605.7 359.7L591.4 345.4L587.5 349.4Z" fill="#FF0000" stroke="#000" stroke-width="0.9" stroke-linejoin="miter"/>
<path d="M589.9 328.3L611.0 334.4L607.0 338.3L621.3 352.6L614.2 359.7L600.0 345.4L596.0 349.4Z" fill="#FF0000" stroke="#000" stroke-width="0.9" stroke-linejoin="miter"/>
<path d="M598.4 328.3L619.5 334.4L615.6 338.3L629.8 352.6L622.8 359.7L608.5 345.4L604.5 349.4Z" fill="#FF0000" stroke="#000" stroke-width="0.9" stroke-linejoin="miter"/>
<path d="M607.0 318.8L628.1 324.9L624.1 328.9L638.4 343.2L631.3 350.2L617.0 335.9L613.1 339.9Z" fill="#FF0000" stroke="#000" stroke-width="0.9" stroke-linejoin="miter"/>
<path d="M615.5 337.8L636.6 343.9L632.6 347.8L646.9 362.1L639.8 369.2L625.6 354.9L621.6 358.8Z" fill="#FF0000" stroke="#000" stroke-width="0.9" stroke-linejoin="miter"/>
<path d="M619.8 344.2L641.6 341.7L639.4 346.9L658.1 354.6L654.3 363.9L635.6 356.1L633.5 361.3Z" fill="#FF0000" stroke="#000" stroke-width="0.9" stroke-linejoin="miter"/>
<path d="M628.3 353.6L650.1 351.2L648.0 356.4L666.6 364.1L662.8 373.3L644.1 365.6L642.0 370.8Z" fill="#FF0000" stroke="#000" stroke-width="0.9" stroke-linejoin="miter"/>
<path d="M636.9 344.2L658.7 341.7L656.5 346.9L675.2 354.6L671.3 363.9L652.7 356.1L650.5 361.3Z" fill="#FF0000" stroke="#000" stroke-width="0.9" stroke-linejoin="miter"/>
<path d="M645.4 344.2L667.2 341.7L665.0 346.9L683.7 354.6L679.9 363.9L661.2 356.1L659.1 361.3Z" fill="#FF0000" stroke="#000" stroke-width="0.9" stroke-linejoin="miter"/>
<path d="M658.2 337.8L679.3 343.9L675.3 347.8L689.6 362.1L682.5 369.2L668.2 354.9L664.3 358.8Z" fill="#FF0000" stroke="#000" stroke-width="0.9" stroke-linejoin="miter"/>
<path d="M680.7 332.0L691.3 351.2L685.7 351.2L685.7 371.4L675.7 371.4L675.7 351.2L670.1 351.2Z" fill="#FF0000" stroke="#000" stroke-width="0.9" stroke-linejoin="miter"/>
<path d="M696.7 314.6L699.2 336.4L694.0 334.2L686.3 352.9L677.0 349.1L684.8 330.4L679.6 328.2Z" fill="#FF0000" stroke="#000" stroke-width="0.9" stroke-linejoin="miter"/>
<path d="M705.3 324.0L707.7 345.8L702.5 343.7L694.8 362.3L685.6 358.5L693.3 339.9L688.1 337.7Z" fill="#FF0000" stroke="#000" stroke-width="0.9" stroke-linejoin="miter"/>
<path d="M706.3 322.5L716.9 341.7L711.3 341.7L711.3 361.9L701.3 361.9L701.3 341.7L695.7 341.7Z" fill="#FF0000" stroke="#000" stroke-width="0.9" stroke-linejoin="miter"/>
<path d="M707.3 324.0L724.4 337.7L719.2 339.9L727.0 358.5L717.7 362.3L710.0 343.7L704.8 345.8Z" fill="#FF0000" stroke="#000" stroke-width="0.9" stroke-linejoin="miter"/>
<path d="M715.8 333.5L732.9 347.2L727.8 349.3L735.5 368.0L726.3 371.8L718.5 353.2L713.4 355.3Z" fill="#FF0000" stroke="#000" stroke-width="0.9" stroke-linejoin="miter"/>
<path d="M717.9 337.8L739.0 343.9L735.1 347.8L749.3 362.1L742.3 369.2L728.0 354.9L724.0 358.8Z" fill="#FF0000" stroke="#000" stroke-width="0.9" stroke-linejoin="miter"/>
<path d="M758.6 344.2L744.9 361.3L742.8 356.1L724.1 363.9L720.3 354.6L739.0 346.9L736.8 341.7Z" fill="#FF0000" stroke="#000" stroke-width="0.9" stroke-linejoin="miter"/>
<path d="M767.2 353.6L753.5 370.8L751.3 365.6L732.7 373.3L728.8 364.1L747.5 356.4L745.4 351.2Z" fill="#FF0000" stroke="#000" stroke-width="0.9" stroke-linejoin="miter"/>
<path d="M737.8 351.7L757.0 341.1L757.0 346.7L777.2 346.7L777.2 356.7L757.0 356.7L757.0 362.3Z" fill="#FF0000" stroke="#000" stroke-width="0.9" stroke-linejoin="miter"/>
<path d="M784.2 353.6L770.5 370.8L768.4 365.6L749.7 373.3L745.9 364.1L764.6 356.4L762.4 351.2Z" fill="#FF0000" stroke="#000" stroke-width="0.9" stroke-linejoin="miter"/>
<path d="M754.9 361.2L774.1 350.6L774.1 356.2L794.3 356.2L794.3 366.2L774.1 366.2L774.1 371.8Z" fill="#FF0000" stroke="#000" stroke-width="0.9" stroke-linejoin="miter"/>
<path d="M781.9 360.7L784.3 382.5L764.8 374.4Z" fill="#FF0000" stroke="#000" stroke-width="0.9" stroke-linejoin="miter"/>
<path d="M787.8 361.1L795.6 381.6L774.6 378.6Z" fill="#FF0000" stroke="#000" stroke-width="0.9" stroke-linejoin="miter"/>
<path d="M819.4 365.4L798.7 372.5L799.6 367.0L779.7 363.5L781.5 353.7L801.4 357.2L802.3 351.6Z" fill="#FF0000" stroke="#000" stroke-width="0.9" stroke-linejoin="miter"/>
<path d="M832.0 356.9L811.3 364.3L812.2 358.8L792.3 355.7L793.8 345.8L813.8 348.9L814.7 343.4Z" fill="#FF0000" stroke="#000" stroke-width="0.9" stroke-linejoin="miter"/>
<path d="M833.7 353.0L811.9 355.5L814.0 350.3L795.4 342.6L799.2 333.3L817.9 341.1L820.0 335.9Z" fill="#FF0000" stroke="#000" stroke-width="0.9" stroke-linejoin="miter"/>
<path d="M845.5 332.8L826.3 343.4L826.3 337.8L806.1 337.8L806.1 327.8L826.3 327.8L826.3 322.2Z" fill="#FF0000" stroke="#000" stroke-width="0.9" stroke-linejoin="miter"/>
<path d="M854.0 332.8L834.8 343.4L834.8 337.8L814.6 337.8L814.6 327.8L834.8 327.8L834.8 322.2Z" fill="#FF0000" stroke="#000" stroke-width="0.9" stroke-linejoin="miter"/>
<path d="M862.5 332.8L843.3 343.4L843.3 337.8L823.1 337.8L823.1 327.8L843.3 327.8L843.3 322.2Z" fill="#FF0000" stroke="#000" stroke-width="0.9" stroke-linejoin="miter"/>
<path d="M869.6 344.2L855.9 361.3L853.8 356.1L835.1 363.9L831.3 354.6L849.9 346.9L847.8 341.7Z" fill="#FF0000" stroke="#000" stroke-width="0.9" stroke-linejoin="miter"/>
<path d="M859.9 332.0L870.5 351.2L864.9 351.2L864.9 371.4L854.9 371.4L854.9 351.2L849.3 351.2Z" fill="#FF0000" stroke="#000" stroke-width="0.9" stroke-linejoin="miter"/>
<path d="M886.3 332.1L872.6 349.2L870.5 344.0L851.8 351.8L848.0 342.5L866.6 334.8L864.5 329.6Z" fill="#FF0000" stroke="#000" stroke-width="0.9" stroke-linejoin="miter"/>
<path d="M895.6 334.4L881.9 351.5L879.8 346.3L861.1 354.1L857.3 344.8L875.9 337.1L873.8 331.9Z" fill="#FF0000" stroke="#000" stroke-width="0.9" stroke-linejoin="miter"/>
<path d="M904.8 332.1L891.1 349.2L889.0 344.0L870.3 351.8L866.5 342.5L885.1 334.8L883.0 329.6Z" fill="#FF0000" stroke="#000" stroke-width="0.9" stroke-linejoin="miter"/>
<path d="M849.5 351.1L868.7 340.5L868.7 346.1L888.9 346.1L888.9 356.1L868.7 356.1L868.7 361.7Z" fill="#FF0000" stroke="#000" stroke-width="0.9" stroke-linejoin="miter"/>
<path d="M857.7 351.8L876.9 341.2L876.9 346.8L897.1 346.8L897.1 356.8L876.9 356.8L876.9 362.4Z" fill="#FF0000" stroke="#000" stroke-width="0.9" stroke-linejoin="miter"/>
<path d="M912.3 334.7L898.6 351.8L896.4 346.7L877.8 354.4L873.9 345.2L892.6 337.4L890.5 332.2Z" fill="#FF0000" stroke="#000" stroke-width="0.9" stroke-linejoin="miter"/>
<path d="M916.5 328.3L910.4 349.4L906.5 345.4L892.2 359.7L885.1 352.6L899.4 338.3L895.4 334.4Z" fill="#FF0000" stroke="#000" stroke-width="0.9" stroke-linejoin="miter"/>
<path d="M925.1 318.8L919.0 339.9L915.0 335.9L900.7 350.2L893.7 343.2L907.9 328.9L904.0 324.9Z" fill="#FF0000" stroke="#000" stroke-width="0.9" stroke-linejoin="miter"/>
<path d="M901.5 359.2L915.1 342.1L917.3 347.3L935.9 339.5L939.8 348.8L921.1 356.5L923.3 361.7Z" fill="#FF0000" stroke="#000" stroke-width="0.9" stroke-linejoin="miter"/>
<path d="M942.1 309.4L936.0 330.4L932.1 326.5L917.8 340.8L910.7 333.7L925.0 319.4L921.1 315.5Z" fill="#FF0000" stroke="#000" stroke-width="0.9" stroke-linejoin="miter"/>
<path d="M950.7 309.4L944.6 330.4L940.6 326.5L926.3 340.8L919.3 333.7L933.6 319.4L929.6 315.5Z" fill="#FF0000" stroke="#000" stroke-width="0.9" stroke-linejoin="miter"/>
<path d="M959.2 309.4L953.1 330.4L949.2 326.5L934.9 340.8L927.8 333.7L942.1 319.4L938.1 315.5Z" fill="#FF0000" stroke="#000" stroke-width="0.9" stroke-linejoin="miter"/>
<path d="M967.7 309.4L961.7 330.4L957.7 326.5L943.4 340.8L936.3 333.7L950.6 319.4L946.7 315.5Z" fill="#FF0000" stroke="#000" stroke-width="0.9" stroke-linejoin="miter"/>
<path d="M969.9 295.6L972.3 317.4L967.2 315.3L959.4 333.9L950.2 330.1L957.9 311.5L952.7 309.3Z" fill="#FF0000" stroke="#000" stroke-width="0.9" stroke-linejoin="miter"/>
<path d="M970.9 294.1L981.5 313.3L975.9 313.3L975.9 333.5L965.9 333.5L965.9 313.3L960.3 313.3Z" fill="#FF0000" stroke="#000" stroke-width="0.9" stroke-linejoin="miter"/>
<path d="M979.4 294.1L990.0 313.3L984.4 313.3L984.4 333.5L974.4 333.5L974.4 313.3L968.8 313.3Z" fill="#FF0000" stroke="#000" stroke-width="0.9" stroke-linejoin="miter"/>
<path d="M987.9 294.1L998.5 313.3L992.9 313.3L992.9 333.5L982.9 333.5L982.9 313.3L977.3 313.3Z" fill="#FF0000" stroke="#000" stroke-width="0.9" stroke-linejoin="miter"/>
<path d="M988.9 305.1L1006.1 318.8L1000.9 320.9L1008.6 339.6L999.4 343.4L991.7 324.8L986.5 326.9Z" fill="#FF0000" stroke="#000" stroke-width="0.9" stroke-linejoin="miter"/>
<path d="M997.5 314.6L1014.6 328.2L1009.4 330.4L1017.2 349.1L1007.9 352.9L1000.2 334.2L995.0 336.4Z" fill="#FF0000" stroke="#000" stroke-width="0.9" stroke-linejoin="miter"/>
<path d="M999.6 318.8L1020.7 324.9L1016.7 328.9L1031.0 343.2L1023.9 350.2L1009.7 335.9L1005.7 339.9Z" fill="#FF0000" stroke="#000" stroke-width="0.9" stroke-linejoin="miter"/>
<text x="51.3" y="413.0" font-size="16.5" text-anchor="end" fill="#000">0</text>
<text x="51.3" y="365.7" font-size="16.5" text-anchor="end" fill="#000">1</text>
<text x="51.3" y="318.3" font-size="16.5" text-anchor="end" fill="#000">2</text>
<text x="51.3" y="271.0" font-size="16.5" text-anchor="end" fill="#000">3</text>
<text x="51.3" y="223.7" font-size="16.5" text-anchor="end" fill="#000">4</text>
<text x="51.3" y="176.3" font-size="16.5" text-anchor="end" fill="#000">5</text>
<text x="51.3" y="129.0" font-size="16.5" text-anchor="end" fill="#000">6</text>
<text x="1028" y="413.2" font-size="16.5" fill="#000">0</text>
<text x="1028" y="365.9" font-size="16.5" fill="#000">5</text>
<text x="1028" y="318.5" font-size="16.5" fill="#000">10</text>
<text x="1028" y="271.2" font-size="16.5" fill="#000">15</text>
<text x="1028" y="223.9" font-size="16.5" fill="#000">20</text>
<text x="1028" y="176.5" font-size="16.5" fill="#000">25</text>
<text x="1028" y="129.2" font-size="16.5" fill="#000">30</text>
<text x="126.3" y="435" font-size="16.3" text-anchor="middle" fill="#000">Wednesday</text>
<text x="130.0" y="458.5" font-size="18.5" letter-spacing="1.5" text-anchor="middle" fill="#808080">21st</text>
<text x="265.2" y="435" font-size="16.3" text-anchor="middle" fill="#000">Thursday</text>
<text x="266.6" y="458.5" font-size="18.5" letter-spacing="1.5" text-anchor="middle" fill="#808080">22nd</text>
<text x="401.6" y="435" font-size="16.3" text-anchor="middle" fill="#000">Friday</text>
<text x="403.2" y="458.5" font-size="18.5" letter-spacing="1.5" text-anchor="middle" fill="#808080">23rd</text>
<text x="539.7" y="435" font-size="16.3" text-anchor="middle" font-weight="bold" fill="#000">Saturday</text>
<text x="539.8" y="458.5" font-size="18.5" letter-spacing="1.5" text-anchor="middle" fill="#808080">24th</text>
<text x="675.6" y="435" font-size="16.3" text-anchor="middle" font-weight="bold" fill="#000">Sunday</text>
<text x="676.3" y="458.5" font-size="18.5" letter-spacing="1.5" text-anchor="middle" fill="#808080">25th</text>
<text x="810.1" y="435" font-size="16.3" text-anchor="middle" fill="#000">Monday</text>
<text x="812.9" y="458.5" font-size="18.5" letter-spacing="1.5" text-anchor="middle" fill="#808080">26th</text>
<text x="948.3" y="435" font-size="16.3" text-anchor="middle" fill="#000">Tuesday</text>
<text x="949.5" y="458.5" font-size="18.5" letter-spacing="1.5" text-anchor="middle" fill="#808080">27th</text>
<text transform="translate(20,266.5) rotate(-90)" font-size="23" text-anchor="middle" fill="#000">Wave Height - Metres</text>
<text transform="translate(1058.7,265) rotate(90)" font-size="23" text-anchor="middle" fill="#000">Wind Speed - Knots</text>
</svg></body></html>
